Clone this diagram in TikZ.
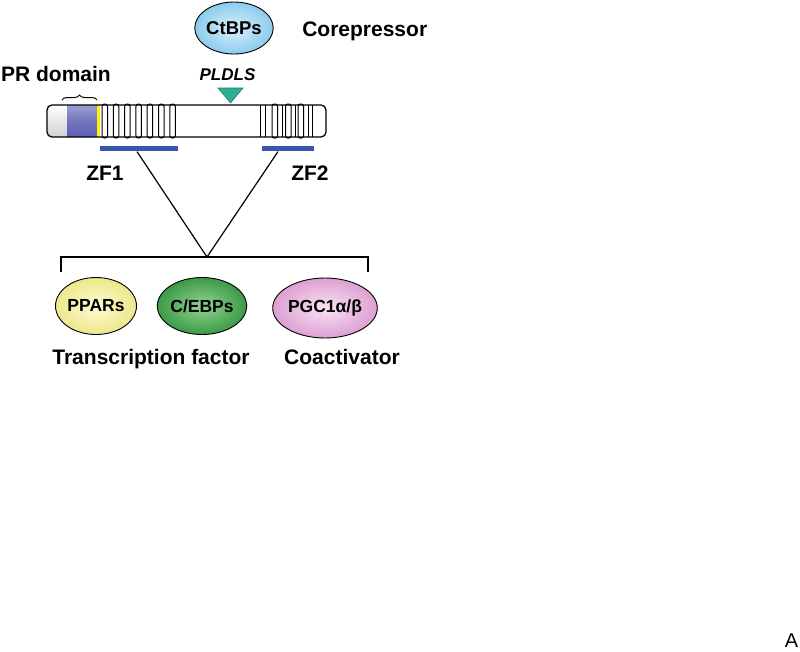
\documentclass[tikz,border=0pt]{standalone}
\usepackage{fontspec}
\setmainfont{Liberation Sans}
\usetikzlibrary{shapes.geometric, positioning, decorations.pathreplacing}

\definecolor{zfblue}{HTML}{3B55AD}
\definecolor{motif}{HTML}{2FAE96}
\definecolor{prblue}{HTML}{5A5EB2}
\definecolor{ctin}{HTML}{DAF0FB}
\definecolor{ctout}{HTML}{8CCBEC}
\definecolor{ppin}{HTML}{FCFBD2}
\definecolor{ppout}{HTML}{EDE88C}
\definecolor{cein}{HTML}{92D492}
\definecolor{ceout}{HTML}{3C9A46}
\definecolor{pgin}{HTML}{F9E2F3}
\definecolor{pgout}{HTML}{DDA0D2}

\begin{document}
\begin{tikzpicture}[x=1pt, y=-1pt, line width=1.2pt,
	lbl/.style={font=\bfseries\fontsize{21}{21}\selectfont, inner sep=0pt},
	prot/.style={ellipse, draw, line width=0.9pt, inner sep=0pt, font=\bfseries\fontsize{17.5}{17.5}\selectfont},
	zfbar/.style={rectangle, fill=zfblue, inner sep=0pt, minimum height=5pt}]
	\useasboundingbox (0,0) rectangle (800,651);

	\begin{scope}
		\clip[rounded corners=5pt] (47,105) rectangle (326,137);
		\fill[white] (47,105) rectangle (326,137);
		\shade[top color=white, bottom color=black!18] (47,105) rectangle (67,137);
		\shade[top color=prblue!60, bottom color=prblue, middle color=prblue!85] (67,105) rectangle (97,137);
		\fill[yellow] (97,105) rectangle (100,137);
	\end{scope}
	\foreach \i in {0,...,6}
		\draw[line width=1pt, rounded corners=2.5pt] (102+11.3*\i,104) rectangle +(5.5,34);
	\foreach \x in {260, 265, 282, 295, 308, 312}
		\draw[line width=1pt] (\x,105) -- (\x,137);
	\foreach \x in {272, 285.5, 298}
		\draw[line width=1pt, rounded corners=2pt] (\x,104) rectangle +(5.5,34);
	\draw[line width=1.3pt, rounded corners=5pt] (47,105) rectangle (326,137);

	\node[lbl] (prlbl) at (56,74) {PR domain};
	\draw[line width=1pt, decorate, decoration={brace, amplitude=5pt}] (62,100) -- (97,100);

	\draw[fill=motif, draw=motif!70!black, line width=0.6pt] (218,88) -- (243,88) -- (230.5,103) -- cycle;
	\node[lbl, font=\bfseries\itshape\fontsize{17}{17}\selectfont] (pldls) at (227.5,74.5) {PLDLS};

	\node[prot, font=\bfseries\fontsize{18.5}{18.5}\selectfont, minimum width=78pt, minimum height=52pt,
		inner color=ctin, outer color=ctout] (ctbp) at (234,28) {CtBPs};
	\node[lbl, right=28pt of ctbp, yshift=-3.5pt] (corep) {Corepressor};

	\node[zfbar, minimum width=78pt] (zf1) at (139,148.5) {};
	\node[zfbar, minimum width=52pt] (zf2) at (288,148.5) {};
	\node[lbl] (zf1lbl) at (105,173) {ZF1};
	\node[lbl] (zf2lbl) at (310,173) {ZF2};

	\coordinate (apex) at (207,257);
	\coordinate (brl) at (61,272);
	\coordinate (brr) at (368,272);
	\draw ([xshift=-2pt]zf1.south) -- (apex) -- ([xshift=-10pt]zf2.south);
	\draw (brl) |- (apex) -| (brr);

	\node[prot, minimum width=81pt, minimum height=57pt,
		inner color=ppin, outer color=ppout] (ppar) at (96,306) {PPARs};
	\node[prot, minimum width=79pt, minimum height=57pt,
		inner color=cein, outer color=ceout] (cebp) at (202,306) {C/EBPs};
	\node[prot, minimum width=93pt, minimum height=60pt,
		inner color=pgin, outer color=pgout] (pgc) at (325,308) {PGC1α/β};

	\node[lbl] (tf) at (151,359) {Transcription factor};
	\node[lbl] (coact) at (342,357) {Coactivator};

	\node[font=\fontsize{20}{20}\selectfont, inner sep=0pt] (panel) at (791.5,641) {A};
\end{tikzpicture}
\end{document}
